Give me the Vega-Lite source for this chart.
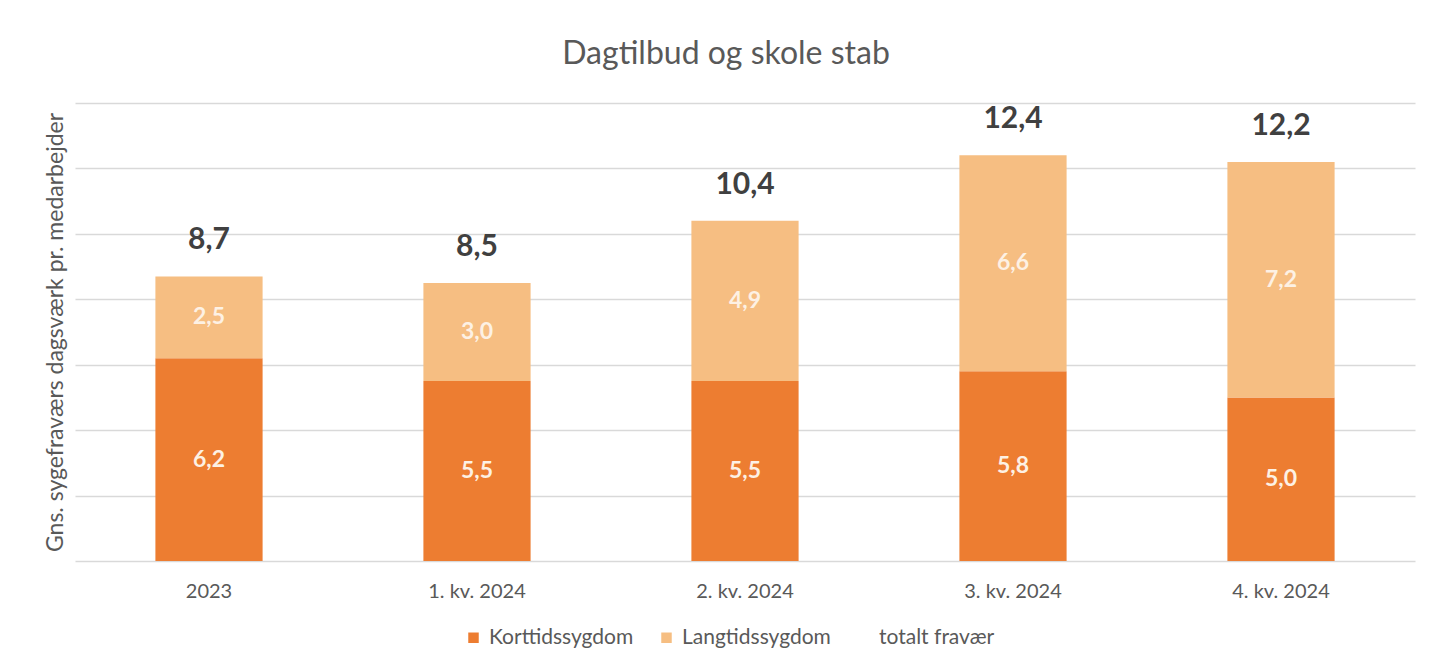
{
  "$schema": "https://vega.github.io/schema/vega-lite/v6.json",
  "width": 1340,
  "height": 458,
  "padding": {"left": 44, "top": 38, "right": 20, "bottom": 5},
  "background": "white",
  "config": {
    "font": "Lato",
    "view": {"stroke": null},
    "locale": {"number": {"decimal": ",", "thousands": ".", "grouping": [3], "currency": ["", " kr."]}},
    "axisY": {"titleFontSize": 23, "titleFontWeight": "normal", "titleColor": "#595959", "titlePadding": 8, "labels": false, "ticks": false, "domain": false, "gridColor": "#d9d9d9", "gridWidth": 1.5}
  },
  "title": {"text": "Dagtilbud og skole stab", "fontSize": 32, "fontWeight": "normal", "color": "#595959", "offset": 32, "anchor": "middle", "dx": -19},
  "data": {
    "values": [
      {"period": "2023", "type": "Korttidssygdom", "value": 6.2},
      {"period": "2023", "type": "Langtidssygdom", "value": 2.5},
      {"period": "2023", "type": "totalt fravær", "value": 8.7},
      {"period": "1. kv. 2024", "type": "Korttidssygdom", "value": 5.5},
      {"period": "1. kv. 2024", "type": "Langtidssygdom", "value": 3.0},
      {"period": "1. kv. 2024", "type": "totalt fravær", "value": 8.5},
      {"period": "2. kv. 2024", "type": "Korttidssygdom", "value": 5.5},
      {"period": "2. kv. 2024", "type": "Langtidssygdom", "value": 4.9},
      {"period": "2. kv. 2024", "type": "totalt fravær", "value": 10.4},
      {"period": "3. kv. 2024", "type": "Korttidssygdom", "value": 5.8},
      {"period": "3. kv. 2024", "type": "Langtidssygdom", "value": 6.6},
      {"period": "3. kv. 2024", "type": "totalt fravær", "value": 12.4},
      {"period": "4. kv. 2024", "type": "Korttidssygdom", "value": 5.0},
      {"period": "4. kv. 2024", "type": "Langtidssygdom", "value": 7.2},
      {"period": "4. kv. 2024", "type": "totalt fravær", "value": 12.2}
    ]
  },
  "encoding": {
    "x": {
      "field": "period", "type": "nominal", "sort": null,
      "scale": {"paddingInner": 0.6, "paddingOuter": 0.3},
      "axis": {"title": null, "labelAngle": 0, "labelFontSize": 20, "labelColor": "#595959", "labelPadding": 20, "ticks": false, "domain": false, "grid": false}
    }
  },
  "layer": [
    {
      "transform": [{"filter": "datum.type !== 'totalt fravær'"}],
      "mark": {"type": "bar"},
      "encoding": {
        "y": {
          "field": "value", "type": "quantitative", "stack": "zero",
          "scale": {"domain": [0, 14], "nice": false},
          "axis": {"title": "Gns. sygefraværs dagsværk pr. medarbejder", "values": [0, 2, 4, 6, 8, 10, 12, 14]}
        },
        "order": {"field": "type", "sort": "ascending"},
        "color": {
          "field": "type", "type": "nominal",
          "scale": {"domain": ["Korttidssygdom", "Langtidssygdom", "totalt fravær"], "range": ["#ED7D31", "#F6BE82", "transparent"]},
          "legend": {"title": null, "orient": "none", "direction": "horizontal", "legendX": 388, "legendY": 524, "labelFontSize": 21, "labelColor": "#595959", "symbolType": "square", "symbolSize": 110, "symbolStrokeWidth": 0, "columnPadding": 22, "labelOffset": 5, "values": ["Korttidssygdom", "Langtidssygdom", "totalt fravær"]}
        }
      }
    },
    {
      "transform": [
        {"filter": "datum.type !== 'totalt fravær'"},
        {"stack": "value", "groupby": ["period"], "sort": [{"field": "type"}], "as": ["v0", "v1"]},
        {"calculate": "(datum.v0 + datum.v1) / 2", "as": "mid"}
      ],
      "mark": {"type": "text", "fontSize": 23, "fontWeight": "bold", "color": "#FDF1E4", "baseline": "middle"},
      "encoding": {
        "y": {"field": "mid", "type": "quantitative", "axis": {"title": "Gns. sygefraværs dagsværk pr. medarbejder", "values": [0, 2, 4, 6, 8, 10, 12, 14]}},
        "text": {"field": "value", "type": "quantitative", "format": ".1f"}
      }
    },
    {
      "transform": [{"filter": "datum.type === 'totalt fravær'"}],
      "mark": {"type": "text", "fontSize": 30, "fontWeight": "bold", "color": "#404040", "baseline": "middle", "dy": -36},
      "encoding": {
        "y": {"field": "value", "type": "quantitative", "axis": {"title": "Gns. sygefraværs dagsværk pr. medarbejder", "values": [0, 2, 4, 6, 8, 10, 12, 14]}},
        "text": {"field": "value", "type": "quantitative", "format": ".1f"}
      }
    }
  ]
}
